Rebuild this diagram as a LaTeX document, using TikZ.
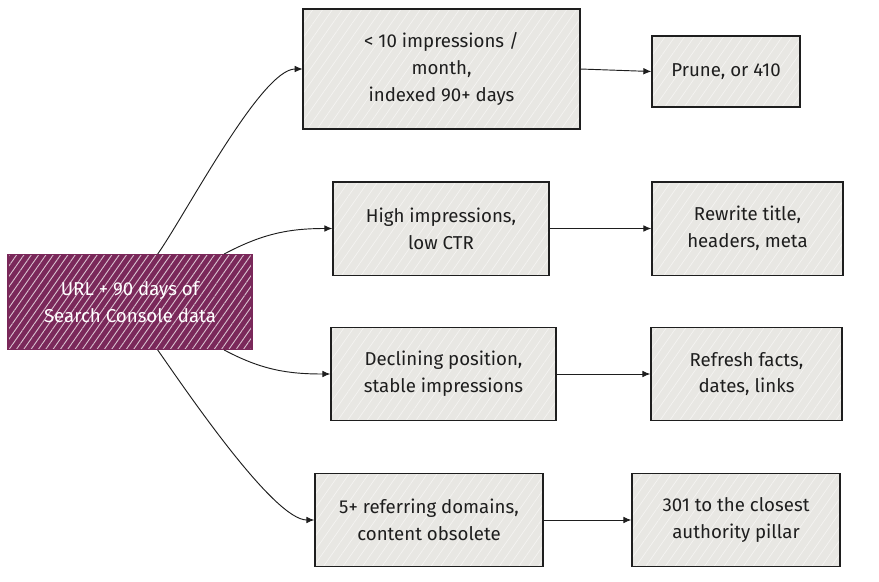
\documentclass[tikz,border=0pt]{standalone}
\usepackage{fontspec}
\setmainfont{Fira Sans}
\usetikzlibrary{patterns.meta,arrows.meta}
\tikzset{font={\fontsize{14pt}{20pt}\selectfont}}
\definecolor{plum}{RGB}{122,40,90}
\definecolor{ink}{RGB}{30,30,30}
\definecolor{paper}{RGB}{232,231,227}

\begin{document}
\begin{tikzpicture}[x=0.75pt,y=-0.75pt,
source box/.style={draw=plum,preaction={fill=plum},text=white,align=center,line width=1pt,
  minimum width=183pt,minimum height=71.25pt,
  pattern={Lines[angle=55,distance=4.5pt,line width=0.7pt]},pattern color=white!70!plum},
step box/.style={draw=ink,preaction={fill=paper},text=ink,align=center,line width=1pt,
  minimum height=70pt,
  pattern={Lines[angle=55,distance=6pt,line width=0.5pt]},pattern color=white!55!paper},
flow/.style={draw=ink,line width=0.7pt,-{Latex[length=6pt,width=5pt]}}
]
\useasboundingbox (0,0) rectangle (879,582);

% starting point
\node[source box] (src) at (130,302) {URL + 90 days of\\Search Console data};

% what the data shows
\node[step box,minimum width=207.75pt,minimum height=90pt] (low) at (441.5,69) {< 10 impressions /\\month,\\indexed 90+ days};
\node[step box,minimum width=162pt] (ctr) at (441,228.5) {High impressions,\\low CTR};
\node[step box,minimum width=168.75pt] (decl) at (443.5,374) {Declining position,\\stable impressions};
\node[step box,minimum width=171pt] (links) at (429,520) {5+ referring domains,\\content obsolete};

% what to do
\node[step box,minimum width=111pt,minimum height=53.25pt] (prune) at (726,71.5) {Prune, or 410};
\node[step box,minimum width=143.25pt] (rewrite) at (747.5,228.5) {Rewrite title,\\headers, meta};
\node[step box,minimum width=143.25pt] (refresh) at (746.5,374) {Refresh facts,\\dates, links};
\node[step box,minimum width=156pt] (redirect) at (736,520) {301 to the closest\\authority pillar};

\draw[flow] (src.60) to[out=55,in=180,out looseness=0.55,in looseness=0.45] (low.west);
\draw[flow] (src.27) to[out=28,in=180] (ctr.west);
\draw[flow] (src.-27) to[out=-28,in=180] (decl.west);
\draw[flow] (src.-60) to[out=-55,in=180,out looseness=0.55,in looseness=0.45] (links.west);

\draw[flow] (low.east) -- (prune.west);
\draw[flow] (ctr.east) -- (rewrite.west);
\draw[flow] (decl.east) -- (refresh.west);
\draw[flow] (links.east) -- (redirect.west);
\end{tikzpicture}
\end{document}
